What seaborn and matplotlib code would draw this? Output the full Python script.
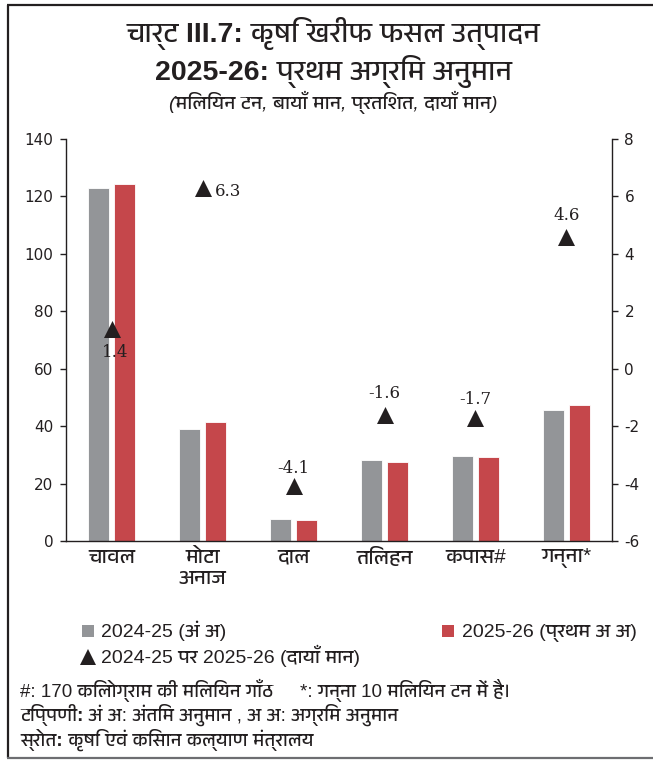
import numpy as np
import pandas as pd
import matplotlib
matplotlib.use("Agg")
import matplotlib.pyplot as plt
import seaborn as sns
from matplotlib import font_manager as fm
from matplotlib.lines import Line2D

# ---- data -------------------------------------------------------------
crops = ["चावल", "मोटा\nअनाज", "दाल", "तिलहन", "कपास#", "गन्ना*"]
prod_2024_25 = [122.9, 38.9, 7.7, 28.1, 29.7, 45.5]   # million tonnes
prod_2025_26 = [124.5, 41.4, 7.4, 27.6, 29.2, 47.5]   # million tonnes
growth_pct = [1.4, 6.3, -4.1, -1.6, -1.7, 4.6]        # per cent, right scale
series_labels = ["2024-25 (अं अ)", "2025-26 (प्रथम अ अ)"]
growth_label = "2024-25 पर 2025-26 (दायाँ मान)"
left_ticks = [0, 20, 40, 60, 80, 100, 120, 140]
right_ticks = [-6, -4, -2, 0, 2, 4, 6, 8]

title_1 = "चार्ट III.7: कृषि खरीफ फसल उत्पादन"
title_2 = "2025-26: प्रथम अग्रिम अनुमान"
subtitle = "(मिलियन टन, बायाँ मान, प्रतिशत, दायाँ मान)"
note_1a = "#: 170 किलोग्राम की मिलियन गाँठ"
note_1b = "*: गन्ना 10 मिलियन टन में है।"
note_2 = ("टिप्पणी:", " अं अ: अंतिम अनुमान , अ अ: अग्रिम अनुमान")
note_3 = ("स्रोत:", " कृषि एवं किसान कल्याण मंत्रालय")

# ---- styling ----------------------------------------------------------
GREY = "#939598"
RED = "#C5474B"
INK = "#231F20"

sns.set_style("white")


def families_with(char):
    """Installed font families that contain a glyph for ``char``."""
    try:
        from fontTools.ttLib import TTFont
    except Exception:
        return []
    found = []
    for f in fm.fontManager.ttflist:
        if f.name in found:
            continue
        try:
            kw = {"fontNumber": 0} if f.fname.lower().endswith((".ttc", ".otc")) else {}
            cmap = TTFont(f.fname, lazy=True, **kw).getBestCmap()
        except Exception:
            continue
        if cmap and ord(char) in cmap:
            found.append(f.name)
    return found


deva = families_with("क")
deva.sort(key=lambda n: (0 if "Devanagari" in n else 1, n))
installed = {f.name for f in fm.fontManager.ttflist}
narrow = "Liberation Sans Narrow" if "Liberation Sans Narrow" in installed else "Liberation Sans"

SANS = ["Liberation Sans"] + deva[:2] + ["DejaVu Sans"]
NARROW = [narrow] + deva[:2] + ["DejaVu Sans"]
plt.rcParams["font.family"] = SANS

fig = plt.figure(figsize=(6.53, 7.6), dpi=100)
ax = fig.add_axes([0.1011, 0.2882, 0.8361, 0.5289])

df = pd.DataFrame({
    "crop": crops * 2,
    "value": prod_2024_25 + prod_2025_26,
    "season": [series_labels[0]] * len(crops) + [series_labels[1]] * len(crops),
})
sns.barplot(data=df, x="crop", y="value", hue="season", order=crops,
            hue_order=series_labels, palette=[GREY, RED], saturation=1,
            width=0.572, gap=0.22, edgecolor="white", linewidth=0.6,
            legend=False, ax=ax)

ax.set_xlim(-0.5, len(crops) - 0.5)
ax.set_ylim(0, 140)
ax.set_yticks(left_ticks)
ax.set_xlabel("")
ax.set_ylabel("")
ax.set_xticks(range(len(crops)))
ax.set_xticklabels(crops, fontsize=15, color=INK, linespacing=1.15,
                   family=SANS)
ax.set_xticks(np.arange(-0.5, len(crops), 1.0), minor=True)
ax.tick_params(axis="x", which="major", length=0, pad=5)
ax.tick_params(axis="x", which="minor", length=5, width=1, color=INK,
               direction="out")
ax.tick_params(axis="y", length=4, width=1, color=INK, direction="out",
               labelsize=11, labelcolor=INK, pad=5)
for lbl in ax.get_yticklabels():
    lbl.set_family("DejaVu Sans")
for side in ("top", "right"):
    ax.spines[side].set_visible(False)
for side in ("left", "bottom"):
    ax.spines[side].set_color(INK)
    ax.spines[side].set_linewidth(1)

# growth markers on the right-hand scale
ax2 = ax.twinx()
xpos = np.arange(len(crops))
sns.scatterplot(x=xpos, y=growth_pct, marker="^", s=150, color=INK,
                linewidth=0, legend=False, ax=ax2, zorder=5)
ax2.set_ylim(-6, 8)
ax2.set_yticks(right_ticks)
ax2.set_yticklabels([str(t) for t in right_ticks], family="DejaVu Sans")
ax2.tick_params(axis="y", length=4, width=1, color=INK, direction="out",
                labelsize=11, labelcolor=INK, pad=5)
for side in ("top", "left", "bottom"):
    ax2.spines[side].set_visible(False)
ax2.spines["right"].set_color(INK)
ax2.spines["right"].set_linewidth(1)

# value labels next to the markers (offsets in points)
label_offsets = [(3, -17, "center"), (9, -3, "left"), (0, 13, "center"),
                 (0, 15, "center"), (0, 13, "center"), (0, 15, "center")]
for x, g, (dx, dy, ha) in zip(xpos, growth_pct, label_offsets):
    ax2.annotate(f"{g:.1f}", xy=(x, g), xytext=(dx, dy),
                 textcoords="offset points", ha=ha, va="center",
                 fontsize=12, color=INK, family="DejaVu Serif")

# titles
fig.text(0.51, 1 - 33 / 760, title_1, ha="center", va="center",
         fontsize=20.5, fontweight="bold", color=INK, family=NARROW)
fig.text(0.51, 1 - 72 / 760, title_2, ha="center", va="center",
         fontsize=20.5, fontweight="bold", color=INK, family=NARROW)
fig.text(0.51, 1 - 102 / 760, subtitle, ha="center", va="center",
         fontsize=14, style="italic", color=INK, family=NARROW)

# legend
handles = [
    Line2D([], [], marker="s", linestyle="none", markersize=9,
           markerfacecolor=GREY, markeredgewidth=0, label=series_labels[0]),
    Line2D([], [], marker="^", linestyle="none", markersize=11,
           markerfacecolor=INK, markeredgewidth=0, label=growth_label),
    Line2D([], [], marker="s", linestyle="none", markersize=9,
           markerfacecolor=RED, markeredgewidth=0, label=series_labels[1]),
]
fig.legend(handles=handles, ncol=2, loc="upper left",
           bbox_to_anchor=(80 / 653, 1 - 621 / 760), frameon=False,
           prop={"family": SANS, "size": 14}, handlelength=0.8,
           handletextpad=0.3, columnspacing=4.1, labelspacing=0.2,
           borderaxespad=0, borderpad=0, labelcolor=INK)

# notes
NOTE_SIZE = 13.5
fig.text(20 / 653, 1 - 690 / 760, note_1a, ha="left", va="center",
         fontsize=NOTE_SIZE, color=INK, family=SANS)
fig.text(300 / 653, 1 - 690 / 760, note_1b, ha="left", va="center",
         fontsize=NOTE_SIZE, color=INK, family=SANS)
for (bold, rest), ypx in ((note_2, 715), (note_3, 740)):
    t = fig.text(20 / 653, 1 - ypx / 760, bold, ha="left", va="center",
                 fontsize=NOTE_SIZE, fontweight="bold", color=INK, family=SANS)
    ax.annotate(rest, xy=(1, 0.5), xycoords=t, ha="left", va="center",
                fontsize=NOTE_SIZE, color=INK, family=SANS,
                annotation_clip=False)

# frame around the panel
frame = dict(transform=fig.transFigure, linewidth=1.6, solid_capstyle="butt")
fig.add_artist(Line2D([7.5 / 653, 7.5 / 653], [1 - 5 / 760, 1 - 758 / 760],
                      color=INK, **frame))
fig.add_artist(Line2D([7 / 653, 1], [1 - 5 / 760, 1 - 5 / 760],
                      color=INK, **frame))
fig.add_artist(Line2D([7 / 653, 1], [1 - 758 / 760, 1 - 758 / 760],
                      color="#6D6E71", **frame))

fig.savefig("out.png", dpi=100)
